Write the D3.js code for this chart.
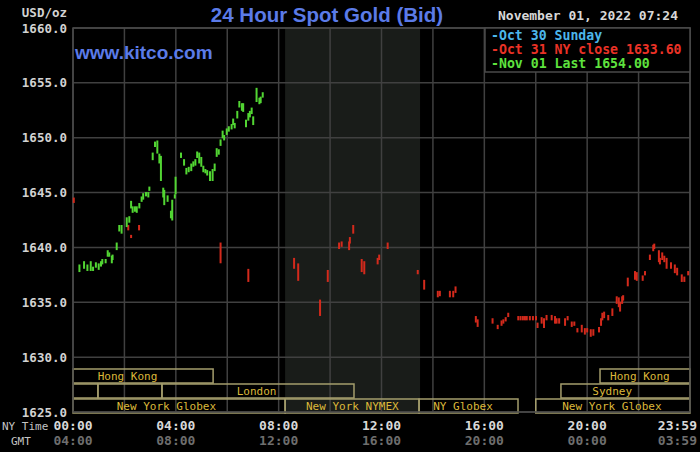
<!DOCTYPE html>
<html>
<head>
<meta charset="utf-8">
<script src="https://cdn.jsdelivr.net/npm/d3@7"></script>
<style>
html, body { margin: 0; padding: 0; background: #000; }
svg { display: block; }
.mono { font-family: "DejaVu Sans Mono", monospace; }
</style>
</head>
<body>
<div id="chart"></div>
<script>
// price ticks and time ticks
const priceTicks = [1625, 1630, 1635, 1640, 1645, 1650, 1655, 1660];
const timeTicks = [0, 4, 8, 12, 16, 20, 23.98];
const nyLabels = ["00:00", "04:00", "08:00", "12:00", "16:00", "20:00", "23:59"];
const gmtLabels = ["04:00", "08:00", "12:00", "16:00", "20:00", "00:00", "03:59"];
const legendLabels = ["-Oct 30 Sunday", "-Oct 31 NY close 1633.60", "-Nov 01 Last 1654.00"];
const nymexHours = [8.25, 13.5];

// [hour, low, high]
const nov01 = [
	[0.25, 1637.8, 1638.4], [0.43, 1638.1, 1638.7], [0.56, 1637.9, 1638.4], [0.69, 1637.9, 1638.7],
	[0.78, 1637.9, 1638.2], [0.89, 1638.2, 1638.6], [1.0, 1638.0, 1638.5], [1.09, 1638.3, 1638.7],
	[1.14, 1638.5, 1638.9], [1.27, 1638.6, 1638.9], [1.35, 1639.2, 1639.7], [1.41, 1639.2, 1639.5],
	[1.51, 1638.6, 1639.2], [1.54, 1638.9, 1639.3], [1.70, 1639.8, 1640.4], [1.80, 1641.5, 1642.0],
	[1.89, 1641.3, 1642.0], [2.09, 1641.9, 1642.7], [2.19, 1642.3, 1642.8], [2.26, 1643.6, 1644.2],
	[2.32, 1643.2, 1643.7], [2.41, 1643.3, 1643.7], [2.48, 1643.2, 1643.7], [2.58, 1643.6, 1644.0],
	[2.67, 1644.2, 1644.6], [2.73, 1644.4, 1644.9], [2.84, 1644.7, 1645.0], [2.93, 1644.6, 1645.0],
	[2.97, 1645.2, 1645.5], [3.10, 1648.0, 1648.6], [3.19, 1649.2, 1649.6], [3.28, 1648.6, 1649.7],
	[3.36, 1647.7, 1648.5], [3.42, 1646.1, 1648.3], [3.51, 1644.6, 1645.4], [3.55, 1643.9, 1645.2],
	[3.68, 1644.2, 1644.7], [3.81, 1642.7, 1643.3], [3.86, 1642.5, 1644.3], [3.96, 1644.5, 1644.8],
	[3.99, 1644.9, 1646.4], [4.20, 1648.2, 1648.6], [4.32, 1647.5, 1648.0], [4.41, 1646.7, 1647.2],
	[4.50, 1646.9, 1647.3], [4.60, 1647.0, 1647.6], [4.68, 1647.4, 1647.8], [4.76, 1647.5, 1648.0],
	[4.83, 1648.2, 1648.7], [4.91, 1647.7, 1648.6], [4.99, 1647.4, 1648.2], [5.07, 1646.9, 1647.4],
	[5.15, 1646.8, 1647.1], [5.22, 1646.6, 1647.0], [5.33, 1646.1, 1646.9], [5.43, 1646.1, 1647.1],
	[5.51, 1647.0, 1647.6], [5.59, 1648.3, 1649.0], [5.67, 1648.5, 1648.9], [5.74, 1649.3, 1649.8],
	[5.82, 1650.0, 1650.6], [5.88, 1649.8, 1650.2], [5.98, 1650.3, 1650.8], [6.06, 1650.6, 1651.0],
	[6.17, 1650.8, 1651.2], [6.23, 1651.2, 1651.7], [6.29, 1650.9, 1651.3], [6.39, 1651.8, 1652.4],
	[6.47, 1652.8, 1653.3], [6.57, 1652.5, 1653.1], [6.62, 1652.4, 1653.1], [6.73, 1651.0, 1651.6],
	[6.82, 1651.6, 1652.2], [6.88, 1651.9, 1652.4], [6.95, 1652.2, 1652.7], [7.01, 1651.2, 1651.9],
	[7.14, 1653.3, 1654.5], [7.25, 1653.1, 1653.6], [7.30, 1653.2, 1653.7], [7.38, 1653.7, 1654.1]
];

const oct31 = [
	[0.03, 1644.1, 1644.5], [2.15, 1641.6, 1642.0], [2.26, 1640.9, 1641.1], [2.57, 1641.6, 1642.0],
	[5.74, 1638.6, 1640.4], [6.82, 1636.9, 1638.0], [8.60, 1638.1, 1639.0], [8.76, 1637.0, 1638.5],
	[9.61, 1633.8, 1635.2], [9.91, 1636.9, 1637.9], [10.35, 1639.9, 1640.4], [10.45, 1640.1, 1640.5],
	[10.74, 1639.8, 1640.5], [10.77, 1640.4, 1640.9], [10.90, 1641.3, 1642.0], [11.23, 1637.8, 1638.9],
	[11.33, 1637.6, 1638.7], [11.85, 1638.5, 1639.0], [11.91, 1638.9, 1639.3], [12.24, 1639.9, 1640.4],
	[13.41, 1637.6, 1637.9], [13.66, 1636.2, 1637.0], [14.19, 1635.5, 1636.0], [14.27, 1635.6, 1636.0],
	[14.66, 1635.5, 1636.0], [14.79, 1635.5, 1636.0], [14.88, 1635.9, 1636.4], [15.67, 1633.2, 1633.7],
	[15.74, 1632.8, 1633.4], [16.32, 1633.1, 1633.5], [16.52, 1632.6, 1632.9], [16.67, 1632.9, 1633.3],
	[16.74, 1633.1, 1633.4], [16.83, 1633.3, 1633.6], [16.93, 1633.7, 1634.0], [17.32, 1633.4, 1633.7],
	[17.41, 1633.4, 1633.7], [17.50, 1633.4, 1633.7], [17.58, 1633.4, 1633.7], [17.65, 1633.4, 1633.7],
	[17.77, 1633.4, 1633.7], [17.89, 1633.4, 1633.7], [18.01, 1633.4, 1633.7], [18.07, 1632.7, 1633.1],
	[18.23, 1633.1, 1633.6], [18.32, 1632.7, 1633.5], [18.42, 1633.4, 1633.8], [18.62, 1633.4, 1633.8],
	[18.75, 1633.1, 1633.7], [18.81, 1633.1, 1633.5], [18.91, 1633.1, 1633.5], [19.14, 1632.9, 1633.5],
	[19.24, 1633.4, 1633.7], [19.40, 1632.8, 1633.2], [19.50, 1632.9, 1633.2], [19.62, 1632.3, 1632.6],
	[19.79, 1632.3, 1632.9], [19.91, 1632.1, 1632.6], [20.00, 1632.3, 1632.6], [20.14, 1631.9, 1632.5],
	[20.24, 1632.0, 1632.5], [20.46, 1632.3, 1632.7], [20.54, 1632.9, 1633.5], [20.59, 1633.4, 1634.0],
	[20.66, 1633.6, 1634.1], [20.82, 1633.4, 1633.8], [20.98, 1633.8, 1634.4], [21.15, 1634.9, 1635.5],
	[21.23, 1634.6, 1635.4], [21.28, 1634.2, 1635.0], [21.36, 1634.9, 1635.5], [21.40, 1635.2, 1635.6],
	[21.58, 1636.5, 1637.2], [21.86, 1637.1, 1637.8], [21.93, 1637.0, 1637.7], [22.16, 1637.0, 1637.4],
	[22.25, 1637.5, 1637.8], [22.44, 1638.9, 1639.3], [22.57, 1639.7, 1640.2], [22.61, 1639.9, 1640.3],
	[22.79, 1638.7, 1639.7], [22.83, 1638.5, 1639.0], [22.92, 1638.9, 1639.5], [23.00, 1638.7, 1639.2],
	[23.09, 1638.1, 1639.0], [23.26, 1638.1, 1638.6], [23.41, 1637.7, 1638.4], [23.50, 1637.5, 1638.1],
	[23.68, 1636.9, 1637.5], [23.78, 1636.9, 1637.3], [23.93, 1637.5, 1637.8]
];

// market sessions: row, start hour, end hour, label, label start hour
const sessions = [
	[0, 0, 5.45, "Hong Kong", 0.96],
	[0, 20.5, 24, "Hong Kong", 20.89],
	[1, 0, 0.97, "", 0],
	[1, 0.97, 3.46, "", 0],
	[1, 3.46, 10.93, "London", 6.37],
	[1, 18.98, 24, "Sydney", 20.2],
	[2, 0, 8.25, "New York Globex", 1.70],
	[2, 8.25, 13.46, "New York NYMEX", 9.06],
	[2, 13.46, 17.31, "NY Globex", 14.01],
	[2, 18.0, 24, "New York Globex", 19.03]
];

const width = 700, height = 452;
const plot = { left: 73, right: 690, top: 28, bottom: 412 };
const rowTop = [369, 384, 399], rowHeight = 14;

const svg = d3.select("#chart").append("svg")
	.attr("width", width)
	.attr("height", height)
	.style("background", "#000");

const x = d3.scaleLinear().domain([0, 24]).range([plot.left, plot.right]);
const y = d3.scaleLinear().domain([1625, 1660]).range([plot.bottom, plot.top]);

// NYMEX shading
svg.append("rect")
	.attr("x", x(nymexHours[0]))
	.attr("y", plot.top)
	.attr("width", x(nymexHours[1]) - x(nymexHours[0]))
	.attr("height", plot.bottom - plot.top)
	.attr("fill", "#191c19");

// grid
const grid = svg.append("g").attr("stroke", "#404040").attr("stroke-width", 1.5);
grid.selectAll(".vgrid")
	.data(d3.range(0, 25, 2))
	.join("line")
	.attr("x1", d => x(d)).attr("x2", d => x(d))
	.attr("y1", plot.top).attr("y2", plot.bottom);
grid.selectAll(".hgrid")
	.data(priceTicks)
	.join("line")
	.attr("x1", plot.left).attr("x2", plot.right)
	.attr("y1", d => y(d)).attr("y2", d => y(d));

// session boxes
const sess = svg.append("g");
sess.selectAll("rect")
	.data(sessions)
	.join("rect")
	.attr("x", d => x(d[1]))
	.attr("y", d => rowTop[d[0]])
	.attr("width", d => x(d[2]) - x(d[1]))
	.attr("height", rowHeight)
	.attr("fill", "none")
	.attr("stroke", "#a49d6c")
	.attr("stroke-width", 1.5);
sess.selectAll("text")
	.data(sessions.filter(d => d[3]))
	.join("text")
	.attr("class", "mono")
	.attr("x", d => x(d[4]))
	.attr("y", d => rowTop[d[0]] + 10.5)
	.attr("font-size", 11)
	.attr("fill", "#dcb83a")
	.text(d => d[3]);

// price data as short vertical strokes
function drawSeries(data, color) {
	svg.append("g").selectAll("line")
		.data(data)
		.join("line")
		.attr("x1", d => x(d[0])).attr("x2", d => x(d[0]))
		.attr("y1", d => y(d[1]) + 0.5).attr("y2", d => y(d[2]) - 0.5)
		.attr("stroke", color)
		.attr("stroke-width", 2);
}

// plot frame
svg.append("rect")
	.attr("x", plot.left).attr("y", plot.top)
	.attr("width", plot.right - plot.left).attr("height", plot.bottom - plot.top)
	.attr("fill", "none").attr("stroke", "#4a4a4a").attr("stroke-width", 1.5);

drawSeries(oct31, "#d42a1c");
drawSeries(nov01, "#52d633");

// legend box
const legendColors = ["#4cb6ea", "#ea3226", "#5ee23e"];
svg.append("rect")
	.attr("x", 485).attr("y", plot.top)
	.attr("width", plot.right - 485).attr("height", 44)
	.attr("fill", "#000").attr("stroke", "#4a4a4a").attr("stroke-width", 1.5);
svg.selectAll(".legend")
	.data(legendLabels)
	.join("text")
	.attr("class", "mono")
	.attr("x", 491)
	.attr("y", (d, i) => 40 + i * 14)
	.attr("font-size", 13.2)
	.attr("font-weight", "bold")
	.attr("fill", (d, i) => legendColors[i])
	.text(d => d);

// y axis labels
svg.selectAll(".ylab")
	.data(priceTicks)
	.join("text")
	.attr("class", "mono")
	.attr("x", 67)
	.attr("y", d => y(d) + 4.5)
	.attr("text-anchor", "end")
	.attr("font-size", 12.5)
	.attr("font-weight", "bold")
	.attr("fill", "#d2d2d2")
	.text(d => d.toFixed(1));
svg.append("text")
	.attr("class", "mono")
	.attr("x", 67).attr("y", 17)
	.attr("text-anchor", "end")
	.attr("font-size", 12.5)
	.attr("font-weight", "bold")
	.attr("fill", "#d2d2d2")
	.text("USD/oz");

// time labels
const anchorFor = (i) => i === timeTicks.length - 1 ? "end" : "middle";
const xFor = (d, i) => i === timeTicks.length - 1 ? 697 : x(d);
svg.selectAll(".ny")
	.data(timeTicks)
	.join("text")
	.attr("class", "mono")
	.attr("x", xFor)
	.attr("y", 430)
	.attr("text-anchor", (d, i) => anchorFor(i))
	.attr("font-size", 13)
	.attr("font-weight", "bold")
	.attr("fill", "#d8d8d8")
	.text((d, i) => nyLabels[i]);
svg.selectAll(".gmt")
	.data(timeTicks)
	.join("text")
	.attr("class", "mono")
	.attr("x", xFor)
	.attr("y", 445)
	.attr("text-anchor", (d, i) => anchorFor(i))
	.attr("font-size", 13)
	.attr("font-weight", "bold")
	.attr("fill", "#6e6e6e")
	.text((d, i) => gmtLabels[i]);
svg.append("text").attr("class", "mono")
	.attr("x", 2).attr("y", 430).attr("font-size", 11).attr("fill", "#c4c4c4")
	.text("NY Time");
svg.append("text").attr("class", "mono")
	.attr("x", 11).attr("y", 445).attr("font-size", 11).attr("fill", "#c4c4c4")
	.text("GMT");

// titles
svg.append("text")
	.attr("x", 327).attr("y", 22)
	.attr("text-anchor", "middle")
	.attr("font-family", "Liberation Sans, Arial, sans-serif")
	.attr("font-size", 20.5)
	.attr("font-weight", "bold")
	.attr("fill", "#5b7be8")
	.text("24 Hour Spot Gold (Bid)");
svg.append("text")
	.attr("x", 75).attr("y", 59)
	.attr("font-family", "Liberation Sans, Arial, sans-serif")
	.attr("font-size", 19)
	.attr("font-weight", "bold")
	.attr("fill", "#5b7be8")
	.text("www.kitco.com");
svg.append("text")
	.attr("class", "mono")
	.attr("x", 678).attr("y", 20)
	.attr("text-anchor", "end")
	.attr("font-size", 13)
	.attr("font-weight", "bold")
	.attr("fill", "#d8d8d8")
	.text("November 01, 2022 07:24");
</script>
</body>
</html>
